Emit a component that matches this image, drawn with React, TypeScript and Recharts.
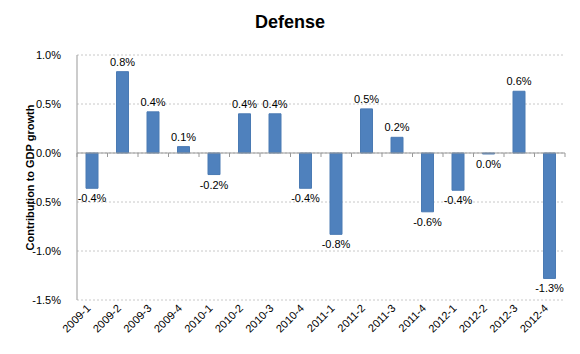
import { BarChart, Bar, XAxis, YAxis, CartesianGrid, ReferenceLine, LabelList } from 'recharts'

const quarters = [
  '2009-1', '2009-2', '2009-3', '2009-4',
  '2010-1', '2010-2', '2010-3', '2010-4',
  '2011-1', '2011-2', '2011-3', '2011-4',
  '2012-1', '2012-2', '2012-3', '2012-4',
]
const contribution = [
  -0.36, 0.83, 0.42, 0.065,
  -0.22, 0.4, 0.4, -0.36,
  -0.83, 0.45, 0.16, -0.6,
  -0.38, -0.01, 0.63, -1.28,
]
const yTicks = [-1.5, -1.0, -0.5, 0, 0.5, 1.0]

const data = quarters.map((q, i) => ({ q, v: contribution[i] }))

const FONT = '"Liberation Sans", Arial, sans-serif'
const BLUE = '#4F81BD'

const pct = (v: number) => {
  const s = v.toFixed(1)
  return (s === '-0.0' ? '0.0' : s) + '%'
}

function BarLabel(props: any) {
  const { x, y, width, height, value } = props
  const top = Math.min(y, y + height)
  const bottom = Math.max(y, y + height)
  const cx = x + width / 2
  const neg = value < 0
  return (
    <text x={cx} y={neg ? bottom + 14 : top - 6} textAnchor="middle" fontSize={11} fontFamily={FONT} fill="#000">
      {pct(value)}
    </text>
  )
}

function ZeroAxis(props: any) {
  const { x1, y1, x2 } = props
  const n = quarters.length
  const step = (x2 - x1) / n
  return (
    <g>
      <line x1={x1} y1={y1} x2={x2} y2={y1} stroke="#999" />
      {Array.from({ length: n + 1 }, (_, i) => (
        <line key={i} x1={x1 + i * step} y1={y1} x2={x1 + i * step} y2={y1 + 4} stroke="#999" />
      ))}
    </g>
  )
}

function QuarterTick({ x, y, payload }: any) {
  return (
    <g transform={`translate(${x - 1},${y + 1})`}>
      <text textAnchor="end" transform="rotate(-45)" fontSize={11} fontFamily={FONT} fill="#000">
        {payload.value}
      </text>
    </g>
  )
}

export default function App() {
  return (
    <div style={{ position: 'absolute', left: 0, top: 0, width: 580, height: 354, background: '#fff' }}>
      <div style={{ position: 'absolute', top: 12, width: 580, textAlign: 'center', fontFamily: FONT, fontWeight: 'bold', fontSize: 18 }}>
        Defense
      </div>
      <BarChart width={580} height={354} data={data} margin={{ top: 55, right: 15, bottom: 0, left: 0 }} barSize={12}>
        <CartesianGrid vertical={false} stroke="#c8c8c8" strokeDasharray="2 2" />
        <YAxis
          width={77}
          domain={[-1.5, 1.0]}
          ticks={yTicks}
          tickFormatter={pct}
          axisLine={{ stroke: '#999' }}
          tickLine={false}
          tickMargin={10}
          tick={{ fontSize: 11, fontFamily: FONT, fill: '#000' }}
          label={{ value: 'Contribution to GDP growth', angle: -90, position: 'insideLeft', offset: 30, style: { textAnchor: 'middle', fontSize: 11, fontWeight: 'bold', fontFamily: FONT, fill: '#000' } }}
        />
        <XAxis dataKey="q" height={54} axisLine={false} tickLine={false} interval={0} tick={<QuarterTick />} />
        <ReferenceLine y={0} shape={<ZeroAxis />} />
        <Bar dataKey="v" fill={BLUE} stroke="#4a7ab3" isAnimationActive={false}>
          <LabelList dataKey="v" content={<BarLabel />} />
        </Bar>
      </BarChart>
    </div>
  )
}
